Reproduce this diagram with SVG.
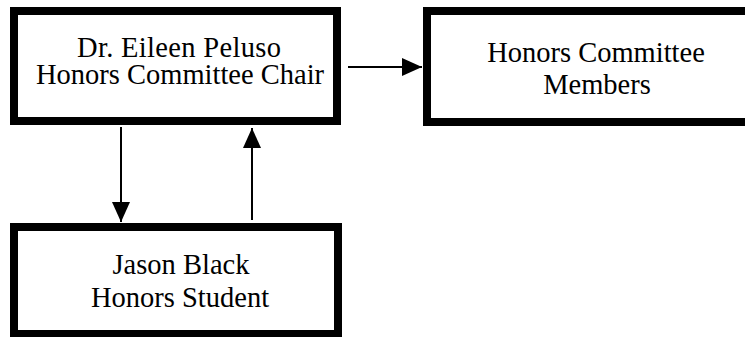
<svg xmlns="http://www.w3.org/2000/svg" width="745" height="337" viewBox="0 0 745 337">
  <style>
    .box { fill: #ffffff; stroke: #000000; stroke-width: 8; }
    .label { font-family: "Liberation Serif", "Times New Roman", serif; font-size: 28.5px; fill: #000000; text-anchor: middle; }
    .conn { stroke: #000000; stroke-width: 2; fill: none; marker-end: url(#head); }
  </style>
  <defs>
    <marker id="head" markerUnits="userSpaceOnUse" markerWidth="20" markerHeight="18" refX="20" refY="9" orient="auto" viewBox="0 0 20 18">
      <path d="M0,0 L20,9 L0,18 Z" fill="#000000"/>
    </marker>
  </defs>
  <rect width="745" height="337" fill="#ffffff"/>

  <g id="chair">
    <rect class="box" x="14" y="11" width="323" height="110"/>
    <text class="label" x="179" y="57" textLength="204" lengthAdjust="spacing">Dr. Eileen Peluso</text>
    <text class="label" x="180" y="84">Honors Committee Chair</text>
  </g>

  <g id="members">
    <rect class="box" x="427" y="11" width="330" height="111"/>
    <text class="label" x="596" y="62">Honors Committee</text>
    <text class="label" x="597" y="94">Members</text>
  </g>

  <g id="student">
    <rect class="box" x="14" y="227" width="324" height="107"/>
    <text class="label" x="181" y="274">Jason Black</text>
    <text class="label" x="180" y="307">Honors Student</text>
  </g>

  <g id="connectors">
    <line class="conn" x1="348" y1="67" x2="422" y2="67"/>
    <line class="conn" x1="121" y1="127" x2="121" y2="222"/>
    <line class="conn" x1="252" y1="220" x2="252" y2="128"/>
  </g>
</svg>
